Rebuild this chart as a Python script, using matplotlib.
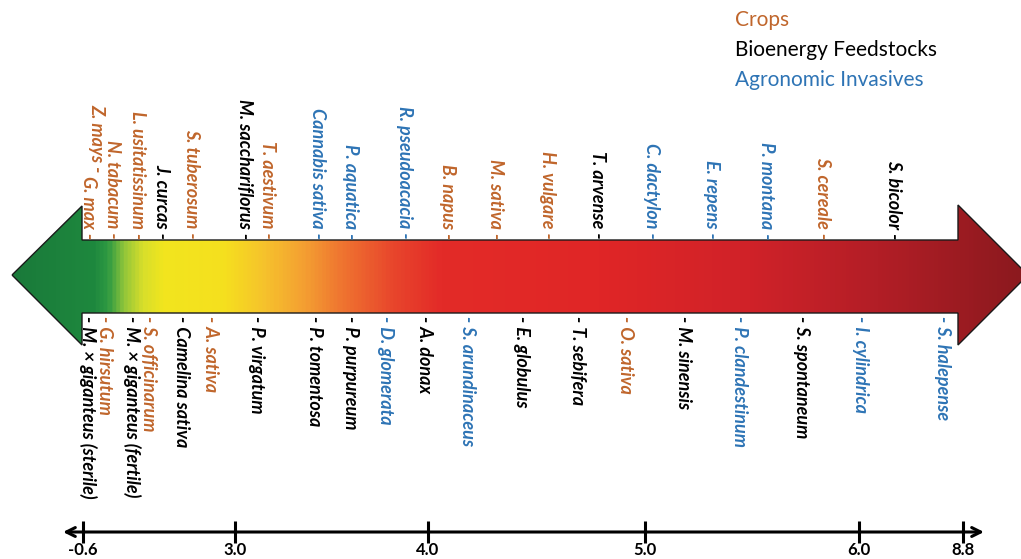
import numpy as np
import matplotlib
matplotlib.use("Agg")
import matplotlib.pyplot as plt
from matplotlib.colors import LinearSegmentedColormap
from matplotlib.patches import Polygon
from matplotlib.transforms import offset_copy

# ---------------- data ----------------
scale_ticks = [-0.6, 3.0, 4.0, 5.0, 6.0, 8.8]
scale_tick_labels = ["-0.6", "3.0", "4.0", "5.0", "6.0", "8.8"]

top_names = ["G. max", "Z. mays", "N. tabacum", "L. usitatissinum", "J. curcas",
             "S. tuberosum", "M. sacchariflorus", "T. aestivum", "Cannabis sativa",
             "P. aquatica", "R. pseudoacacia", "B. napus", "M. sativa", "H. vulgare",
             "T. arvense", "C. dactylon", "E. repens", "P. montana", "S. cereale",
             "S. bicolor"]
top_values = [-0.48, -0.48, 0.11, 0.70, 1.27, 1.98, 3.05, 3.17, 3.43, 3.60, 3.88,
              4.09, 4.31, 4.55, 4.78, 5.03, 5.31, 5.57, 5.83, 6.92]
top_groups = ["crop", "crop", "crop", "crop", "bio", "crop", "bio", "crop", "inv",
              "inv", "inv", "crop", "crop", "crop", "bio", "inv", "inv", "inv",
              "crop", "bio"]

bottom_names = ["M. × giganteus (sterile)", "G. hirsutum", "M. × giganteus (fertile)",
                "S. officinarum", "Camelina sativa", "A. sativa", "P. virgatum",
                "P. tomentosa", "P. purpureum", "D. glomerata", "A. donax",
                "S. arundinaceus", "E. globulus", "T. sebifera", "O. sativa",
                "M. sinensis", "P. clandestinum", "S. spontaneum", "I. cylindrica",
                "S. halepense"]
bottom_values = [-0.48, -0.08, 0.56, 0.94, 1.74, 2.41, 3.11, 3.41, 3.60, 3.78, 3.98,
                 4.18, 4.43, 4.69, 4.91, 5.18, 5.44, 5.73, 6.03, 8.26]
bottom_groups = ["bio", "crop", "bio", "crop", "bio", "crop", "bio", "bio", "bio",
                 "inv", "bio", "inv", "bio", "bio", "crop", "bio", "inv", "bio",
                 "inv", "inv"]

legend_labels = ["Crops", "Bioenergy Feedstocks", "Agronomic Invasives"]
legend_groups = ["crop", "bio", "inv"]

# ---------------- style ----------------
group_colors = {"crop": "#c0662c", "bio": "#000000", "inv": "#2e74b5"}
W, H = 1021, 559
# broken (piecewise) scale: pixel position of each scale tick
tick_px = np.array([83, 235, 428, 645, 859, 963], dtype=float)
tv = np.array(scale_ticks, dtype=float)
s0 = (tick_px[1] - tick_px[0]) / (tv[1] - tv[0])
s1 = (tick_px[-1] - tick_px[-2]) / (tv[-1] - tv[-2])


def fwd(v):
    v = np.asarray(v, dtype=float)
    out = np.interp(v, tv, tick_px)
    out = np.where(v < tv[0], tick_px[0] + (v - tv[0]) * s0, out)
    out = np.where(v > tv[-1], tick_px[-1] + (v - tv[-1]) * s1, out)
    return out


def inv(p):
    p = np.asarray(p, dtype=float)
    out = np.interp(p, tick_px, tv)
    out = np.where(p < tick_px[0], tv[0] + (p - tick_px[0]) / s0, out)
    out = np.where(p > tick_px[-1], tv[-1] + (p - tick_px[-1]) / s1, out)
    return out


fig = plt.figure(figsize=(W / 100, H / 100), dpi=100)
fig.patch.set_facecolor("white")

deco = fig.add_axes([0, 0, 1, 1])
deco.set_xlim(0, W)
deco.set_ylim(H, 0)
deco.axis("off")

# gradient arrow
arrow_pts = [(12, 275), (82, 206), (82, 240), (958, 240), (958, 205), (1028, 275),
             (958, 345), (958, 313), (82, 313), (82, 345)]
x0, x1 = 12, 1028
stops = [(12, "#1a7a3a"), (92, "#1e883e"), (106, "#2e9a42"), (122, "#92c63a"),
         (142, "#d9df2a"), (162, "#f2e51e"), (222, "#f5e01e"), (262, "#f6c32c"),
         (302, "#f4a032"), (342, "#ef7330"), (392, "#e8462c"), (440, "#e32b28"),
         (600, "#e02626"), (750, "#d02229"), (880, "#b21e26"), (1028, "#8a191e")]
cmap = LinearSegmentedColormap.from_list(
    "arrow", [((p - x0) / (x1 - x0), c) for p, c in stops])
grad = np.linspace(0, 1, 800)[None, :]
im = deco.imshow(grad, cmap=cmap, extent=(x0, x1, 345, 205), aspect="auto",
                 interpolation="bilinear", zorder=1)
poly = Polygon(arrow_pts, closed=True, facecolor="none", edgecolor="#1a1a1a",
               lw=1.0, zorder=2)
deco.add_patch(poly)
im.set_clip_path(poly)

# legend
for i, (lab, g) in enumerate(zip(legend_labels, legend_groups)):
    deco.text(735, 20 + 30 * i, lab, color=group_colors[g], fontsize=15,
              family="Lato", ha="left", va="center")

# data axes with the broken scale
ax = fig.add_axes([0, 0, 1, 1])
ax.set_xscale("function", functions=(fwd, inv))
ax.set_xlim(float(inv(0)), float(inv(W)))
ax.set_ylim(H, 0)
ax.axis("off")
ax.patch.set_alpha(0)

lab_kw = dict(fontsize=13, family="Lato", weight="bold", style="italic",
              rotation=270, ha="center")

top_texts = {}
renderer = fig.canvas.get_renderer()
for name, val, g in zip(top_names, top_values, top_groups):
    if val in top_texts:
        prev = top_texts[val]
        h = prev.get_window_extent(renderer).height
        tr = offset_copy(ax.transData, fig=fig, x=9, y=0, units="dots")
        ax.text(val, 239 - h - 4, name + " -", color=group_colors[g], va="bottom",
                transform=tr, **lab_kw)
    else:
        top_texts[val] = ax.text(val, 239, name + " -", color=group_colors[g],
                                 va="bottom", **lab_kw)

for name, val, g in zip(bottom_names, bottom_values, bottom_groups):
    ax.text(val, 316, "- " + name, color=group_colors[g], va="top", **lab_kw)

# bottom scale line
lo, hi = float(inv(63)), float(inv(984))
ax.annotate("", xy=(hi, 532), xytext=(lo, 532),
            arrowprops=dict(arrowstyle="<->", lw=2.2, color="black",
                            mutation_scale=16, shrinkA=0, shrinkB=0))
ax.vlines(scale_ticks, 521, 543, color="black", lw=2.2)
for v, t in zip(scale_ticks, scale_tick_labels):
    ax.text(v, 550, t, ha="center", va="center", fontsize=12, family="Lato",
            weight="bold")

fig.savefig("out.png", dpi=100, facecolor="white")
